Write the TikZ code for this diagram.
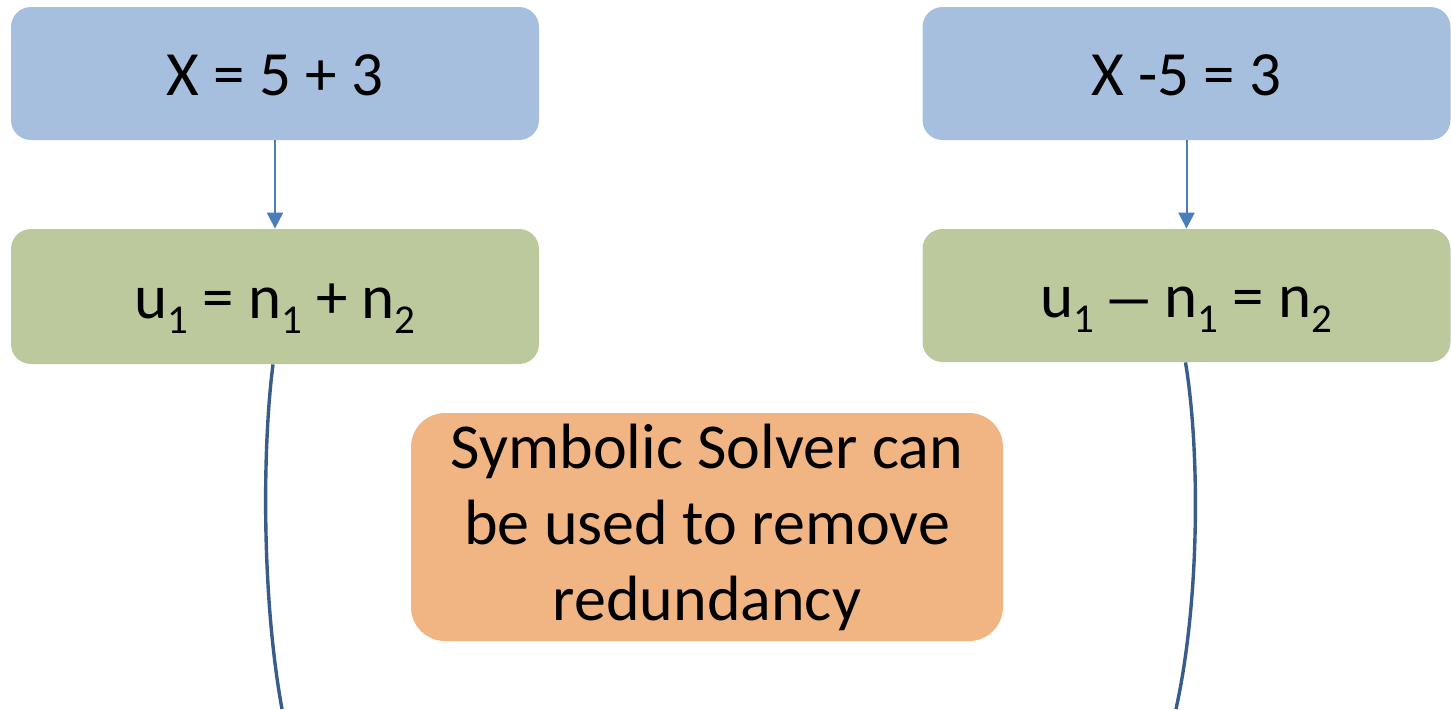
\documentclass[tikz,border=0pt]{standalone}
\usepackage{fontspec}
\setmainfont{Carlito}
\usetikzlibrary{arrows.meta}
\definecolor{boxblue}{HTML}{A7BFDE}
\definecolor{boxgreen}{HTML}{BBC99D}
\definecolor{boxorange}{HTML}{F1B483}
\definecolor{arrowblue}{HTML}{4A7EBB}
\definecolor{curveblue}{HTML}{385D8A}
\newcommand{\lowidx}[1]{\raisebox{-7.5pt}{\fontsize{20.5}{20}\selectfont #1}}
\begin{document}
\begin{tikzpicture}[x=0.5pt,y=-0.5pt,
  eqbox/.style={rounded corners=10pt, minimum width=264pt, inner sep=0pt, text=black,
    text height=21.5pt, text depth=0pt, font=\fontsize{31.5}{38}\selectfont},
  solverbox/.style={rounded corners=17pt, fill=boxorange, minimum width=296pt, minimum height=114pt,
    inner sep=0pt, align=center, font=\fontsize{32}{38}\selectfont},
  down/.style={draw=arrowblue, line width=1pt, -{Triangle[length=8pt,width=8pt]}},
  brace/.style={draw=curveblue, line width=1.7pt}]
  \useasboundingbox (0,0) rectangle (1451,709);
  \node [eqbox, fill=boxblue, minimum height=66.5pt] (xleft) at (275,73.5) {X = 5 + 3};
  \node [eqbox, fill=boxblue, minimum height=66.5pt] (xright) at (1186.5,73.5) {X -5 = 3};
  \node [eqbox, fill=boxgreen, minimum height=67.5pt] (uleft) at (275,296.5)
    {u\lowidx{1} = n\lowidx{1} + n\lowidx{2}};
  \node [eqbox, fill=boxgreen, minimum height=66.5pt] (uright) at (1186.5,295.5)
    {u\lowidx{1}\kern-3pt{} \raisebox{-1pt}{\scalebox{1.7}[1]{–}}\kern-3pt{} n\lowidx{1} = n\lowidx{2}};
  \node [solverbox] (solver) at (707,527) {\vspace*{1.5pt}Symbolic Solver can\\be used to remove\\redundancy};
  \coordinate (lend) at (282,709);
  \coordinate (rend) at (1176,709);
  \draw [down] (xleft) -- (uleft);
  \draw [down] (xright) -- (uright);
  \draw [brace] ([xshift=-1pt]uleft.south) .. controls (262,450) and (262,600) .. (lend);
  \draw [brace] ([xshift=-0.5pt]uright.south) .. controls (1200,450) and (1200,600) .. (rend);
\end{tikzpicture}
\end{document}
